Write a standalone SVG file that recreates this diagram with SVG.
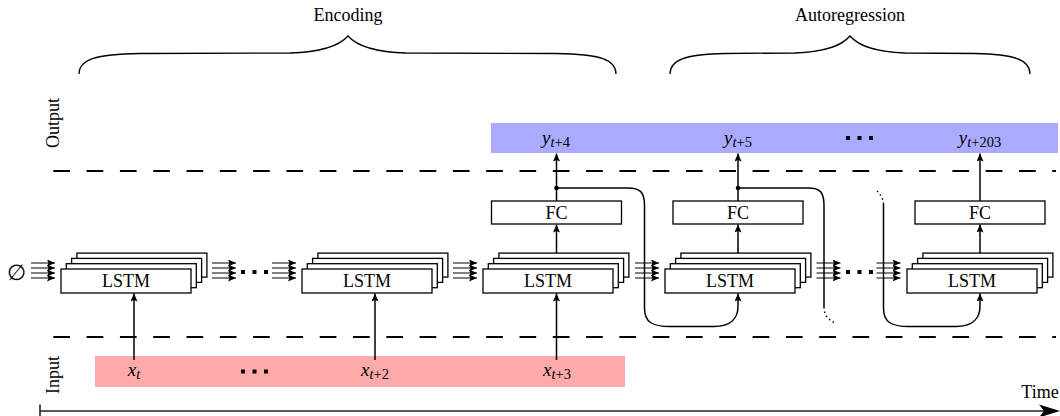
<svg xmlns="http://www.w3.org/2000/svg" xmlns:xlink="http://www.w3.org/1999/xlink" width="1060" height="416" viewBox="0 0 1060 416">
<style>
.t{font-family:"Liberation Serif","DejaVu Serif",serif;font-size:18px;fill:#000}
.m{font-family:"Liberation Serif","DejaVu Serif",serif;font-size:19px;font-style:italic;fill:#000}
.s{font-size:14.5px}
.u{font-style:normal}
.box{fill:#fff;stroke:#000;stroke-width:1.3}
.ln{fill:none;stroke:#000;stroke-width:1.5}
.thin{fill:none;stroke:#000;stroke-width:1}
.dash{fill:none;stroke:#000;stroke-width:2;stroke-dasharray:16.7 16.6}
.dot{fill:#000}
</style>
<defs>
<marker id="ah" markerUnits="userSpaceOnUse" markerWidth="9" markerHeight="7" refX="8" refY="3.5" orient="auto">
<path d="M0,0 L8,3.5 L0,7 L1.5,3.5 z" fill="#000"/>
</marker>
<g id="bundle">
<line class="thin" x1="0" y1="263" x2="24" y2="263" marker-end="url(#ah)"/>
<line class="thin" x1="0" y1="268" x2="24" y2="268" marker-end="url(#ah)"/>
<line class="thin" x1="0" y1="273" x2="24" y2="273" marker-end="url(#ah)"/>
<line class="thin" x1="0" y1="278" x2="24" y2="278" marker-end="url(#ah)"/>
</g>
<g id="stack">
<rect class="box" x="15.9" y="253.1" width="130" height="24"/>
<rect class="box" x="10.6" y="258.4" width="130" height="24"/>
<rect class="box" x="5.3" y="263.7" width="130" height="24"/>
<rect class="box" x="0" y="269" width="130" height="24"/>
<text class="t" x="65" y="287" text-anchor="middle">LSTM</text>
</g>
<g id="dots3">
<rect x="0" y="0" width="4" height="4"/>
<rect x="11.5" y="0" width="4" height="4"/>
<rect x="23" y="0" width="4" height="4"/>
</g>
</defs>

<g id="bars">
<rect id="output-bar" x="491" y="123" width="567" height="30" fill="#aaaaff"/>
<rect id="input-bar" x="95" y="356" width="530" height="31" fill="#ffaaaa"/>
</g>

<g id="dashed-lines">
<line class="dash" x1="53.3" y1="171" x2="1056" y2="171"/>
<line class="dash" x1="53.3" y1="337" x2="1056" y2="337"/>
</g>

<g id="braces">
<text class="t" x="348" y="21" text-anchor="middle">Encoding</text>
<path class="ln" style="stroke-width:1.3" d="M79,74 C79,60 95,54 140,53.5 L290,53 C325,52 340,45 348,36 C356,45 371,52 406,53 L556,53.5 C601,54 616,60 616,74"/>
<text class="t" x="850" y="21" text-anchor="middle">Autoregression</text>
<path class="ln" style="stroke-width:1.3" d="M670,74 C670,60 686,54 725,53.5 L795,53 C828,52 842,45 850,36 C858,45 872,52 905,53 L975,53.5 C1014,54 1030,60 1030,74"/>
</g>

<g id="side-labels">
<text class="t" transform="translate(59,123) rotate(-90)" text-anchor="middle">Output</text>
<text class="t" transform="translate(59,375) rotate(-90)" text-anchor="middle">Input</text>
</g>

<g id="lstm1"><use xlink:href="#stack" x="61"/></g>
<g id="lstm2"><use xlink:href="#stack" x="302"/></g>
<g id="lstm3"><use xlink:href="#stack" x="483"/></g>
<g id="lstm4"><use xlink:href="#stack" x="665"/></g>
<g id="lstm5"><use xlink:href="#stack" x="907"/></g>

<g id="fc1"><rect class="box" x="491.5" y="201" width="130" height="23"/><text class="t" x="556.5" y="219" text-anchor="middle">FC</text></g>
<g id="fc2"><rect class="box" x="673" y="201" width="130" height="23"/><text class="t" x="738" y="219" text-anchor="middle">FC</text></g>
<g id="fc3"><rect class="box" x="915" y="201" width="130" height="23"/><text class="t" x="980" y="219" text-anchor="middle">FC</text></g>

<g id="input-labels">
<text class="m" x="134" y="376" text-anchor="middle">x<tspan class="s" dy="3">t</tspan></text>
<use xlink:href="#dots3" x="241" y="369.5"/>
<text class="m" x="375" y="376" text-anchor="middle">x<tspan class="s" dy="3">t</tspan><tspan class="s u">+2</tspan></text>
<text class="m" x="557" y="376" text-anchor="middle">x<tspan class="s" dy="3">t</tspan><tspan class="s u">+3</tspan></text>
</g>

<g id="output-labels">
<text class="m" x="556" y="144" text-anchor="middle">y<tspan class="s" dy="3">t</tspan><tspan class="s u">+4</tspan></text>
<text class="m" x="738" y="144" text-anchor="middle">y<tspan class="s" dy="3">t</tspan><tspan class="s u">+5</tspan></text>
<use xlink:href="#dots3" x="846" y="136"/>
<text class="m" x="980" y="144" text-anchor="middle">y<tspan class="s" dy="3">t</tspan><tspan class="s u">+203</tspan></text>
</g>

<g id="empty-state">
<text class="t" x="16" y="280" text-anchor="middle" style="font-size:22px">∅</text>
</g>

<g id="connectors">
<use xlink:href="#bundle" x="31"/>
<use xlink:href="#bundle" x="212"/>
<use xlink:href="#dots3" x="241" y="270"/>
<use xlink:href="#bundle" x="272"/>
<use xlink:href="#bundle" x="453"/>
<use xlink:href="#bundle" x="635"/>
<use xlink:href="#bundle" x="816.5"/>
<use xlink:href="#dots3" x="846" y="270"/>
<use xlink:href="#bundle" x="876.5"/>

<line class="ln" x1="134" y1="360" x2="134" y2="293.5" marker-end="url(#ah)"/>
<line class="ln" x1="375" y1="360" x2="375" y2="293.5" marker-end="url(#ah)"/>
<line class="ln" x1="556.5" y1="360" x2="556.5" y2="293.5" marker-end="url(#ah)"/>

<line class="ln" x1="556.5" y1="253" x2="556.5" y2="224.5" marker-end="url(#ah)"/>
<line class="ln" x1="738" y1="253" x2="738" y2="224.5" marker-end="url(#ah)"/>
<line class="ln" x1="980" y1="253" x2="980" y2="224.5" marker-end="url(#ah)"/>

<line class="ln" x1="556.5" y1="201" x2="556.5" y2="153.5" marker-end="url(#ah)"/>
<line class="ln" x1="738" y1="201" x2="738" y2="153.5" marker-end="url(#ah)"/>
<line class="ln" x1="980" y1="201" x2="980" y2="153.5" marker-end="url(#ah)"/>

<circle class="dot" cx="556.5" cy="188" r="2.3"/>
<circle class="dot" cx="738" cy="188" r="2.3"/>

<path class="ln" d="M556.5,188 H628 C640,188 644.5,192 644.5,205 V308 C644.5,322 652,326.5 670,326.5 H714 C731,326.5 738,318 738,306 V293.5" marker-end="url(#ah)"/>
<path class="ln" d="M738,188 H808 C820,188 824,192 824,205 V307"/>
<path class="ln" style="stroke-dasharray:1.5 3" d="M824,307 C824,314 827,319 835,323"/>
<path class="ln" style="stroke-dasharray:1.5 3" d="M877,191 C880,194 883,198 883.5,204"/>
<path class="ln" d="M883.5,204 V308 C883.5,322 891,326.5 909,326.5 H956 C973,326.5 980,318 980,306 V293.5" marker-end="url(#ah)"/>

<line x1="40" y1="411" x2="1045" y2="411" stroke="#222" stroke-width="1.6"/>
<line x1="40" y1="404.5" x2="40" y2="416" stroke="#222" stroke-width="1.6"/>
<path d="M1060,411 L1039,404.5 L1044,411 L1039,417.5 z" fill="#000"/>
</g>
<text class="t" x="1040" y="398" text-anchor="middle">Time</text>
</svg>
